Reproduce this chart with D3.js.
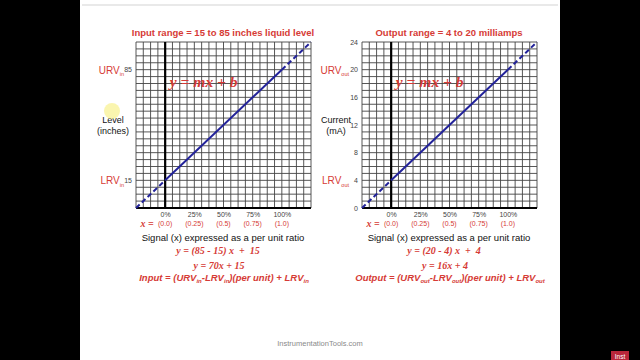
<!DOCTYPE html>
<html><head><meta charset="utf-8">
<script src="https://cdn.jsdelivr.net/npm/d3@7"></script>
<style>
html,body{margin:0;padding:0;background:#000;}
svg{display:block;}
text{font-family:"Liberation Sans",Arial,sans-serif;}
.serif{font-family:"Liberation Serif","Times New Roman",serif;}
</style></head>
<body><svg id="c" width="640" height="360"></svg>
<script>
// ---- data ----
const xDomain = [-0.25, 1.25];
const xTicks = [0, 0.25, 0.5, 0.75, 1.0];
const xTickLabels = ["0%", "25%", "50%", "75%", "100%"];
const xValueLabels = ["(0.0)", "(0.25)", "(0.5)", "(0.75)", "(1.0)"];
const gridDivisions = 24;

const inputRange = [15, 85];
const inputDomain = [-2.5, 102.5];
const inputTicks = [15, 85];
const inputSolid = [[0, 15], [1, 85]];
const inputDashLow = [[-0.25, -2.5], [0, 15]];
const inputDashHigh = [[1, 85], [1.25, 102.5]];

const outputRange = [4, 20];
const outputDomain = [0, 24];
const outputTicks = [0, 4, 8, 12, 16, 20, 24];
const outputSolid = [[0, 4], [1, 20]];
const outputDashLow = [[-0.25, 0], [0, 4]];
const outputDashHigh = [[1, 20], [1.25, 24]];

const RED = "#d63b36";
const BLUE = "#22229a";

const svg = d3.select("#c");
// slide
svg.append("rect").attr("x", 80).attr("y", 0).attr("width", 480).attr("height", 360).attr("fill", "#fff");
svg.append("line").attr("x1", 82).attr("x2", 558).attr("y1", 5).attr("y2", 5).attr("stroke", "#e2e2e2").attr("stroke-width", 1.5);

function panel(opt) {
  const g = svg.append("g");
  const x = d3.scaleLinear().domain(xDomain).range([opt.left, opt.left + 175]);
  const y = d3.scaleLinear().domain(opt.yDomain).range([208, 42]);
  // grid
  const xs = d3.range(gridDivisions + 1).map(i => xDomain[0] + i * (xDomain[1] - xDomain[0]) / gridDivisions);
  const ys = d3.range(gridDivisions + 1).map(i => opt.yDomain[0] + i * (opt.yDomain[1] - opt.yDomain[0]) / gridDivisions);
  g.selectAll(".vg").data(xs).join("line").attr("class", "vg")
    .attr("x1", d => x(d)).attr("x2", d => x(d)).attr("y1", y(opt.yDomain[0])).attr("y2", y(opt.yDomain[1]))
    .attr("stroke", "#444").attr("stroke-width", 0.9);
  g.selectAll(".hg").data(ys).join("line").attr("class", "hg")
    .attr("y1", d => y(d)).attr("y2", d => y(d)).attr("x1", x(xDomain[0])).attr("x2", x(xDomain[1]))
    .attr("stroke", "#444").attr("stroke-width", 0.9);
  // thick axes
  g.append("line").attr("x1", x(0)).attr("x2", x(0)).attr("y1", y(opt.yDomain[0])).attr("y2", y(opt.yDomain[1]))
    .attr("stroke", "#000").attr("stroke-width", 2.2);
  g.append("line").attr("x1", x(xDomain[0])).attr("x2", x(xDomain[1])).attr("y1", y(opt.yDomain[0])).attr("y2", y(opt.yDomain[0]))
    .attr("stroke", "#000").attr("stroke-width", 2);
  // lines
  const line = d3.line().x(d => x(d[0])).y(d => y(d[1]));
  g.append("path").attr("d", line(opt.solid)).attr("fill", "none").attr("stroke", BLUE).attr("stroke-width", 2);
  [opt.dashLow, opt.dashHigh].forEach(p => g.append("path").attr("d", line(p)).attr("fill", "none")
    .attr("stroke", BLUE).attr("stroke-width", 2).attr("stroke-dasharray", "5,3"));
  // y tick labels
  const ya = d3.axisLeft(y).tickValues(opt.yTicks).tickSize(0).tickPadding(4);
  const yag = g.append("g").attr("transform", `translate(${x(xDomain[0])},0)`).call(ya);
  yag.select(".domain").remove();
  yag.selectAll("text").attr("font-size", 7).attr("fill", "#444").attr("font-family", "Liberation Sans, Arial, sans-serif");
  // x tick labels
  const xa = d3.axisBottom(x).tickValues(xTicks).tickSize(0).tickPadding(4).tickFormat((d, i) => xTickLabels[i]);
  const xag = g.append("g").attr("transform", `translate(0,${y(opt.yDomain[0])})`).call(xa);
  xag.select(".domain").remove();
  xag.selectAll("text").attr("font-size", 7).attr("fill", "#444").attr("font-family", "Liberation Sans, Arial, sans-serif");
  g.selectAll(".xv").data(xTicks).join("text").attr("class", "xv").attr("x", d => x(d)).attr("y", 226)
    .attr("text-anchor", "middle").attr("font-size", 7).attr("fill", RED).text((d, i) => xValueLabels[i]);
  g.append("text").attr("class", "serif").attr("x", x(xDomain[0]) + 11).attr("y", 226.5).attr("text-anchor", "middle")
    .attr("font-size", 10).attr("font-style", "italic").attr("font-weight", "bold").attr("fill", RED).text("x =");
  // URV / LRV labels
  const lab = (val, name, sub) => {
    const t = g.append("text").attr("x", x(xDomain[0]) - (opt.subGap)).attr("y", y(val) + 4).attr("text-anchor", "end")
      .attr("font-size", 10).attr("fill", RED);
    t.append("tspan").text(name);
    t.append("tspan").attr("dy", 2.5).attr("font-size", 5.5).text(sub);
  };
  lab(opt.range[1], "URV", opt.sub);
  lab(opt.range[0], "LRV", opt.sub);
  // axis title
  g.append("text").attr("x", opt.titleX).attr("y", 123).attr("text-anchor", "middle").attr("font-size", 9).attr("fill", "#111").text(opt.yTitle1);
  g.append("text").attr("x", opt.titleX).attr("y", 134).attr("text-anchor", "middle").attr("font-size", 9).attr("fill", "#111").text(opt.yTitle2);
  // title
  const cx = x(xDomain[0]) + 87;
  g.append("text").attr("x", cx).attr("y", 36).attr("text-anchor", "middle").attr("font-size", 9.5).attr("font-weight", "bold")
    .attr("fill", RED).text(opt.title);
  g.append("text").attr("class", "serif").attr("x", x(0.33)).attr("y", 87).attr("text-anchor", "middle").attr("font-size", 15.5)
    .attr("font-weight", "bold").attr("font-style", "italic").attr("fill", RED).text("y = mx + b");
  // bottom texts
  g.append("text").attr("x", cx).attr("y", 241).attr("text-anchor", "middle").attr("font-size", 9.5).attr("fill", "#111")
    .text("Signal (x) expressed as a per unit ratio");
  g.append("text").attr("class", "serif").attr("x", cx - 5).attr("y", 254).attr("text-anchor", "middle").attr("font-size", 10)
    .attr("font-weight", "bold").attr("font-style", "italic").attr("fill", RED).attr("xml:space", "preserve").text(opt.eq1);
  g.append("text").attr("class", "serif").attr("x", cx - 4).attr("y", 269).attr("text-anchor", "middle").attr("font-size", 10)
    .attr("font-weight", "bold").attr("font-style", "italic").attr("fill", RED).text(opt.eq2);
  const f = g.append("text").attr("x", cx + 1).attr("y", 281).attr("text-anchor", "middle").attr("font-size", 9.5)
    .attr("font-weight", "bold").attr("font-style", "italic").attr("fill", RED);
  f.append("tspan").text(opt.fname + " = (URV");
  f.append("tspan").attr("dy", 2).attr("font-size", 6).text(opt.sub);
  f.append("tspan").attr("dy", -2).text("-LRV");
  f.append("tspan").attr("dy", 2).attr("font-size", 6).text(opt.sub);
  f.append("tspan").attr("dy", -2).text(")(per unit) + LRV");
  f.append("tspan").attr("dy", 2).attr("font-size", 6).text(opt.sub);
}

panel({left: 136, yDomain: inputDomain, yTicks: inputTicks, range: inputRange, solid: inputSolid,
  dashLow: inputDashLow, dashHigh: inputDashHigh, sub: "in", subGap: 12,
  title: "Input range = 15 to 85 inches liquid level", yTitle1: "Level", yTitle2: "(inches)", titleX: 113,
  eq1: "y = (85 - 15) x  +  15", eq2: "y = 70x + 15", fname: "Input"});
panel({left: 362, yDomain: outputDomain, yTicks: outputTicks, range: outputRange, solid: outputSolid,
  dashLow: outputDashLow, dashHigh: outputDashHigh, sub: "out", subGap: 13,
  title: "Output range = 4 to 20 milliamps", yTitle1: "Current", yTitle2: "(mA)", titleX: 336,
  eq1: "y = (20 - 4) x  +  4", eq2: "y = 16x + 4", fname: "Output"});

// cursor highlight
svg.append("circle").attr("cx", 112).attr("cy", 111).attr("r", 8).attr("fill", "#f7ee7a").attr("opacity", 0.6);
// footer
svg.append("text").attr("x", 320).attr("y", 346).attr("text-anchor", "middle").attr("font-size", 7.5).attr("fill", "#8a8a8a")
  .text("InstrumentationTools.com");
svg.append("rect").attr("x", 611).attr("y", 351).attr("width", 18).attr("height", 9).attr("fill", "#b8263a");
svg.append("text").attr("x", 620).attr("y", 358.5).attr("text-anchor", "middle").attr("font-size", 6.5).attr("fill", "#fff").text("Inst");
</script></body></html>
